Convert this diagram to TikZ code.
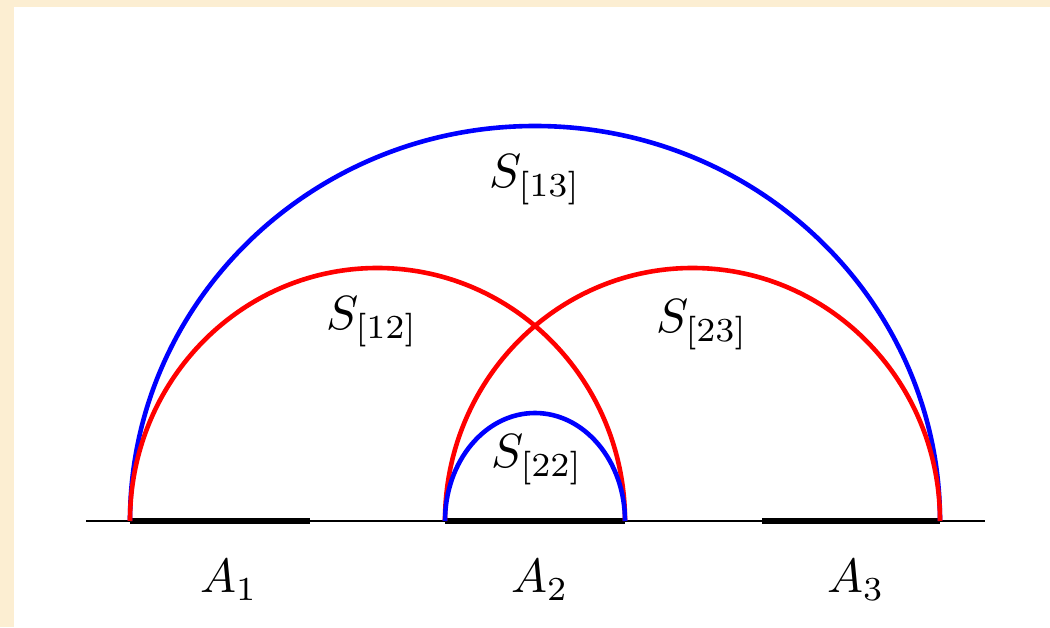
\documentclass[tikz,border=0pt]{standalone}
\definecolor{parch}{RGB}{252,238,210}
\definecolor{pblue}{RGB}{0,0,255}
\definecolor{pred}{RGB}{255,0,0}
\tikzset{
  bluearc/.style={draw=pblue, line width=4.6pt},
  redarc/.style={draw=pred, line width=4.6pt},
  axis/.style={draw=black, line width=1.6pt},
  seg/.style={draw=black, line width=5.5pt},
  lbl/.style={scale=4.8, inner sep=0pt}
}
\begin{document}
\begin{tikzpicture}[x=1pt,y=1pt]
\useasboundingbox (0,0) rectangle (1050,627);
\fill[parch] (0,0) rectangle (1050,627);
\fill[white] (14,0) rectangle (1050,620);
% coordinates on the baseline
\coordinate (L) at (86,106);
\coordinate (R) at (985,106);
\coordinate (a) at (130,106);
\coordinate (b) at (310,106);
\coordinate (c) at (445,106);
\coordinate (d) at (625,106);
\coordinate (e) at (762,106);
\coordinate (f) at (940,106);
\draw[axis] (L) -- (R);
\draw[seg] (a) -- (b);
\draw[seg] (c) -- (d);
\draw[seg] (e) -- (f);
% arcs
\draw[bluearc] (f) arc[start angle=0, end angle=180, x radius=405, y radius=395];
\draw[redarc] (d) arc[start angle=0, end angle=180, x radius=247.5, y radius=253];
\draw[redarc] (f) arc[start angle=0, end angle=180, x radius=247.5, y radius=253];
\draw[bluearc] (d) arc[start angle=0, end angle=180, x radius=90, y radius=108];
% labels
\node[lbl] (s13) at (535,447) {$S_{[13]}$};
\node[lbl] (s12) at (372,305) {$S_{[12]}$};
\node[lbl] (s23) at (702,302) {$S_{[23]}$};
\node[lbl] (s22) at (537,167) {$S_{[22]}$};
\node[lbl] (a1) at (229,47) {$A_1$};
\node[lbl] (a2) at (540,47) {$A_2$};
\node[lbl] (a3) at (856,47) {$A_3$};
\end{tikzpicture}
\end{document}
